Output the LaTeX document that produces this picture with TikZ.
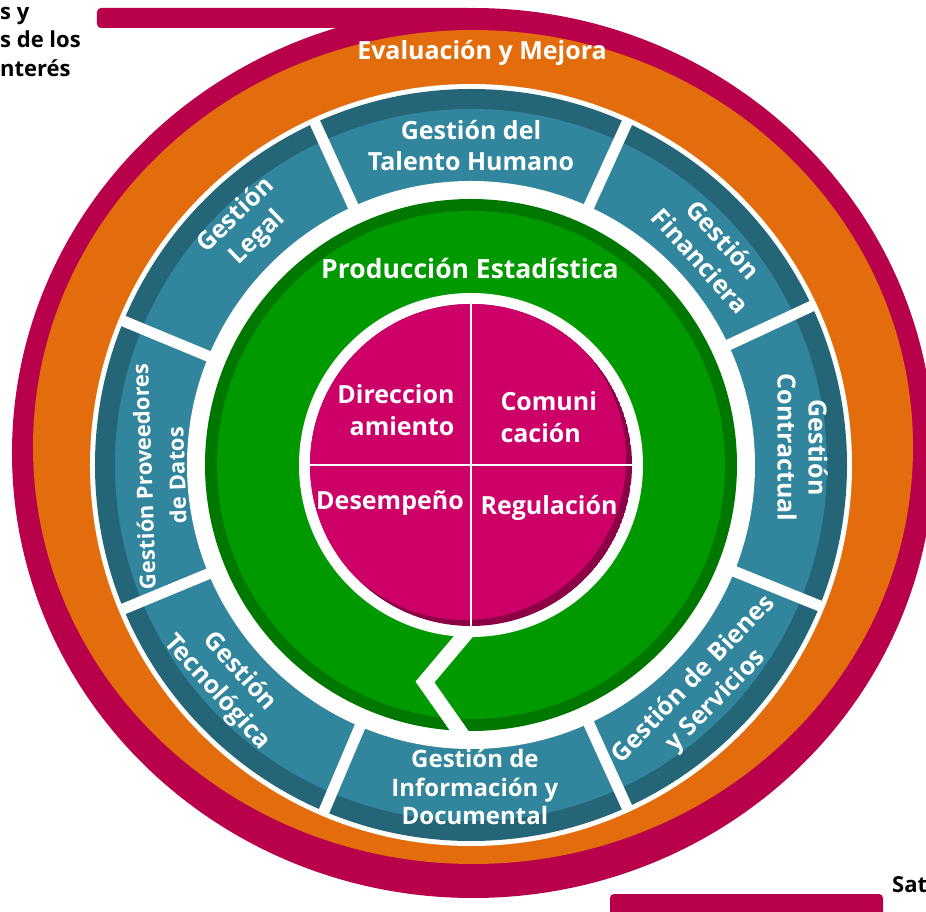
\documentclass[tikz,border=0pt]{standalone}
\usepackage{fontspec}
\setmainfont{Open Sans}
\usepackage{tikz}

\definecolor{ringcrimson}{RGB}{185,0,75}
\definecolor{evalorange}{RGB}{227,108,12}
\definecolor{teallight}{RGB}{49,134,158}
\definecolor{tealdark}{RGB}{36,101,119}
\definecolor{prodgreen}{RGB}{0,153,0}
\definecolor{greendark}{RGB}{0,120,0}
\definecolor{quadmag}{RGB}{204,0,102}
\definecolor{quaddark}{RGB}{140,0,70}

\begin{document}
\begin{tikzpicture}[x=1pt, y=1pt,
  seglabel/.style={text=white, font=\bfseries\fontsize{25}{31}\selectfont, align=center},
  quadlabel/.style={text=white, font=\bfseries\fontsize{25}{32}\selectfont},
  sidelabel/.style={text=black, font=\bfseries\fontsize{22}{28.5}\selectfont, align=left}]

\useasboundingbox (-471,-447) rectangle (455,465);

% draw crimson ring with its two bars
\fill[ringcrimson, rounded corners=4] (-374,437) rectangle (2,457);
\fill[ringcrimson, rounded corners=4] (139,-452) -- (139,-429) -- (412,-429) -- (412,-452) -- cycle;
\fill[ringcrimson] (2,12) ellipse [x radius=461, y radius=445];

% draw orange ring
\fill[evalorange] (2,18) ellipse [x radius=440, y radius=417];
\fill[white] (0,0) circle (381);

% draw teal ring
\fill[tealdark] (0,0) circle (376);
\fill[teallight] (0,0) circle (356);
\fill[white] (0,0) circle (284);

% draw segment gaps
\foreach \a in {25,65.5,114.5,157.5,202.5,247,294.5,338}
{
    \draw[white, line width=11pt] (\a:278) -- (\a:379);
}

% draw green ring
\fill[greendark] (0,0) circle (266);
\fill[prodgreen] (0,0) circle (254);
\fill[white] (0,0) circle (172);
\draw[white, line width=15pt] (-3,-166) -- (-46,-217) -- (-6,-274);

% draw quadrants
\foreach \s in {0,90,180,270}
{
    \begin{scope}
        \clip (0,0) -- (\s:161) arc[start angle=\s, delta angle=90, radius=161] -- cycle;
        \fill[quaddark] (0,0) circle (161);
        \fill[quadmag] (-6,6) circle (161);
    \end{scope}
}
\draw[white, line width=2.5pt] (0,161) -- (0,-161);
\draw[white, line width=2.5pt] (-161,0) -- (161,0);

% draw nodes
\node[seglabel] (talento) at (90:319) {Gestión del\\Talento Humano};
\node[seglabel, rotate=-48] (financiera) at (41.7:323) {Gestión\\Financiera};
\node[seglabel, rotate=-90] (contractual) at (3:332) {Gestión\\Contractual};
\node[seglabel, rotate=46] (bienes) at (-43.9:325) {Gestión de Bienes\\y Servicios};
\node[seglabel, font=\bfseries\fontsize{24}{28.5}\selectfont] (informacion) at (-89.3:322) {Gestión de\\Información y\\Documental};
\node[seglabel, rotate=-48] (tecnologica) at (221.8:326) {Gestión\\Tecnológica};
\node[seglabel, rotate=92, font=\bfseries\fontsize{22}{33}\selectfont] (proveedores) at (182:311) {Gestión Proveedores\\de Datos};
\node[seglabel, rotate=44] (legal) at (133.3:327) {Gestión\\Legal};

\node[seglabel, font=\bfseries\fontsize{26.5}{30}\selectfont] (produccion) at (-1,197) {Producción Estadística};
\node[seglabel] (evaluacion) at (11,412) {Evaluación y Mejora};

\node[quadlabel, align=right, anchor=east] (direccion) at (-13,55) {Direccion\\amiento};
\node[quadlabel, align=left, anchor=west] (comunicacion) at (26,48) {Comuni\\cación};
\node[quadlabel] (desempeno) at (-81,-38) {Desempeño};
\node[quadlabel] (regulacion) at (78,-43) {Regulación};

\node[sidelabel, anchor=north west, inner sep=0pt] (partes) at (-471,458) {s y\\s de los\\nterés};
\node[sidelabel, anchor=west, inner sep=0pt] (sat) at (421,-420) {Sat};

\end{tikzpicture}
\end{document}
